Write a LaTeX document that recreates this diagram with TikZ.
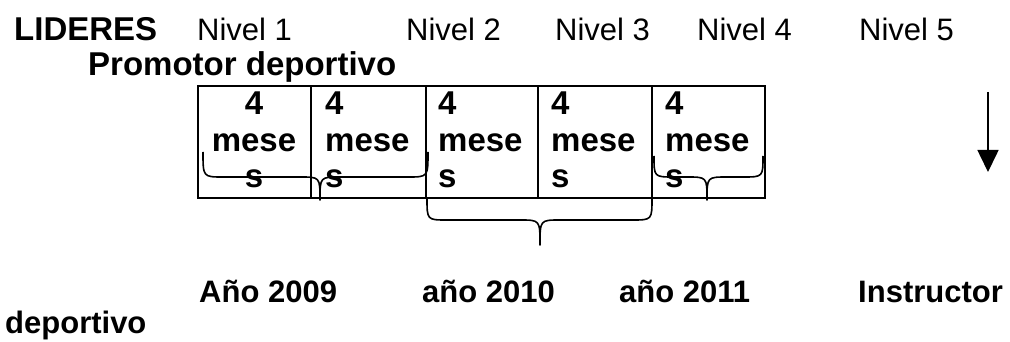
\documentclass[tikz,border=0pt]{standalone}
\usepackage{fontspec}
\setmainfont{Liberation Sans}
\usetikzlibrary{arrows.meta}

\tikzset{
  celda/.style={draw, line width=1.8pt, minimum height=112pt, inner sep=0pt},
  texto/.style={anchor=base west, inner sep=0pt, font=\fontsize{31}{37}\selectfont},
  negrita/.style={texto, font=\fontsize{33}{37}\selectfont\bfseries},
  pie/.style={texto, font=\fontsize{31}{37}\selectfont\bfseries},
  llave/.style={line width=1.6pt, line join=round},
}

% llave: x1, x2, xpunta, yextremo, ybarra, ypunta
\newcommand{\dibujallave}[6]{%
  \draw[llave] (#1,#4) .. controls (#1,#5) .. ({#1+20},#5) -- ({#3-20},#5)
    .. controls (#3,#5) .. (#3,#6) .. controls (#3,#5) .. ({#3+20},#5)
    -- ({#2-20},#5) .. controls (#2,#5) .. (#2,#4);
}

\begin{document}
\begin{tikzpicture}[x=1pt,y=-1pt]
  \useasboundingbox (0,0) rectangle (1010,342);

  % encabezado
  \node[negrita] (lideres) at (14,41) {LIDERES};
  \node[texto] (niv1) at (197,41) {Nivel 1};
  \node[texto] (niv2) at (406,41) {Nivel 2};
  \node[texto] (niv3) at (555,41) {Nivel 3};
  \node[texto] (niv4) at (697,41) {Nivel 4};
  \node[texto] (niv5) at (859,41) {Nivel 5};
  \node[negrita] (promotor) at (88,76) {Promotor deportivo};

  % casillas
  \node[celda, minimum width=113pt] (c1) at (254.5,142) {};
  \node[celda, minimum width=115pt] (c2) at (368.5,142) {};
  \node[celda, minimum width=112pt] (c3) at (482,142) {};
  \node[celda, minimum width=114pt] (c4) at (595,142) {};
  \node[celda, minimum width=113pt] (c5) at (708.5,142) {};

  \node[negrita, anchor=base] (t1-a) at (254,115) {4};
  \node[negrita, anchor=base] (t1-b) at (254,152) {mese};
  \node[negrita, anchor=base] (t1-c) at (254,188) {s};
  \foreach \n/\x in {2/325,3/438,4/551,5/665}{
    \node[negrita] (t\n-a) at (\x,115) {4};
    \node[negrita] (t\n-b) at (\x,152) {mese};
    \node[negrita] (t\n-c) at (\x,188) {s};
  }

  % llaves
  \dibujallave{203}{428}{320}{152}{177}{200}
  \dibujallave{427}{652}{540}{198}{220}{245}
  \dibujallave{654}{763}{707}{156}{177}{200}

  % flecha
  \coordinate (fl-a) at (988,92);
  \coordinate (fl-b) at (988,172);
  \draw[line width=1.6pt, -{Triangle[length=22pt,width=21pt]}] (fl-a) -- (fl-b);

  % pie
  \node[pie] (a2009) at (199,302) {Año 2009};
  \node[pie] (a2010) at (422,302) {año 2010};
  \node[pie] (a2011) at (619,302) {año 2011};
  \node[pie] (instructor) at (858,302) {Instructor};
  \node[pie] (deportivo) at (5,333) {deportivo};
\end{tikzpicture}
\end{document}
